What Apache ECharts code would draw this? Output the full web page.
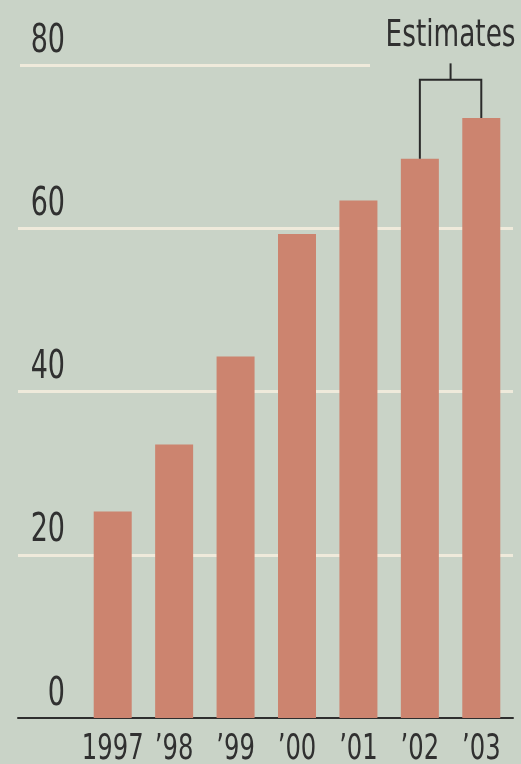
<!DOCTYPE html>
<html>
<head>
<meta charset="utf-8">
<script src="https://cdn.jsdelivr.net/npm/echarts@6/dist/echarts.min.js"></script>
<style>
  html, body { margin: 0; padding: 0; background: #c9d3c7; }
  #chart { width: 521px; height: 764px; }
</style>
</head>
<body>
<div id="chart"></div>
<script>
// chart data
const years = ['1997', '’98', '’99', '’00', '’01', '’02', '’03']
const values = [25.3, 33.5, 44.3, 59.3, 63.4, 68.5, 73.5]
const yTicks = [0, 20, 40, 60, 80]
const estimateRange = [5, 6] // '02 and '03 are estimates
const estimateLabel = 'Estimates'

// no condensed face installed, so text is squeezed horizontally
const FONT = '"DejaVu Sans Condensed", "DejaVu Sans", sans-serif'
const SQUEEZE = 0.77
const INK = '#303030'
const GRID_LINE = { color: '#efeadb', width: 3 }

const yMin = yTicks[0]
const yMax = yTicks[yTicks.length - 1]
const yStep = yTicks[1] - yTicks[0]

const chart = echarts.init(document.getElementById('chart'), null, { renderer: 'canvas' })

function label(text, x, y, size, align, vAlign) {
  return {
    type: 'text',
    x: x,
    y: y,
    scaleX: SQUEEZE,
    style: {
      text: text,
      x: 0,
      y: 0,
      align: align,
      verticalAlign: vAlign,
      fill: INK,
      font: size + 'px ' + FONT
    }
  }
}

chart.setOption({
  backgroundColor: '#c9d3c7',
  animation: false,
  grid: [
    // full width grid: y labels, gridlines 20-60, baseline
    { left: 18, right: 8, top: 65, bottom: 46 },
    // short top gridline (stops before the Estimates bracket)
    { left: 20, width: 350, top: 65, bottom: 46 },
    // bars
    { left: 82, right: 9, top: 65, bottom: 46 }
  ],
  xAxis: [
    {
      gridIndex: 0, type: 'value', min: 0, max: 1,
      axisLine: { show: true, lineStyle: { color: '#2e2e2e', width: 2 } },
      axisTick: { show: false }, axisLabel: { show: false }, splitLine: { show: false }
    },
    {
      gridIndex: 1, type: 'value', min: 0, max: 1, show: false
    },
    {
      gridIndex: 2, type: 'category', data: years,
      axisLine: { show: false }, axisTick: { show: false }, axisLabel: { show: false }
    }
  ],
  yAxis: [
    {
      gridIndex: 0, type: 'value', min: yMin, max: yMax, interval: yStep,
      axisLine: { show: false }, axisTick: { show: false }, axisLabel: { show: false },
      splitLine: { show: true, showMinLine: false, showMaxLine: false, lineStyle: GRID_LINE }
    },
    {
      gridIndex: 1, type: 'value', min: yMin, max: yMax, interval: yMax - yMin,
      axisLine: { show: false }, axisTick: { show: false }, axisLabel: { show: false },
      splitLine: { show: true, showMinLine: false, lineStyle: GRID_LINE }
    },
    {
      gridIndex: 2, type: 'value', min: yMin, max: yMax, interval: yStep, show: false
    }
  ],
  series: [
    {
      type: 'bar',
      xAxisIndex: 2,
      yAxisIndex: 2,
      data: values,
      barWidth: 38,
      itemStyle: { color: '#cc846f' },
      z: 3
    },
    {
      // y tick labels, sitting just above each gridline
      type: 'custom',
      xAxisIndex: 0,
      yAxisIndex: 0,
      clip: false,
      silent: true,
      data: yTicks.map(v => [0, v]),
      renderItem(params, api) {
        const p = api.coord([0, api.value(1)])
        return label(String(api.value(1)), p[0] + 47, p[1] - 4, 39, 'right', 'bottom')
      }
    },
    {
      // category labels under the baseline
      type: 'custom',
      xAxisIndex: 2,
      yAxisIndex: 2,
      clip: false,
      silent: true,
      data: years.map((y, i) => [i, 0]),
      renderItem(params, api) {
        const i = api.value(0)
        const p = api.coord([i, 0])
        return label(years[i], p[0], p[1] + 14, 35, 'center', 'top')
      }
    },
    {
      // bracket over the estimated years
      type: 'custom',
      xAxisIndex: 2,
      yAxisIndex: 2,
      clip: false,
      silent: true,
      z: 4,
      data: [estimateRange],
      renderItem(params, api) {
        const i0 = api.value(0)
        const i1 = api.value(1)
        const a = api.coord([i0, values[i0]])
        const b = api.coord([i1, values[i1]])
        const level = api.coord([i0, 78.2])[1]
        const stemTop = api.coord([i0, 80.2])[1]
        const midX = (a[0] + b[0]) / 2
        const line = { stroke: '#2a2a2a', lineWidth: 2, fill: null }
        return {
          type: 'group',
          children: [
            {
              type: 'polyline',
              shape: { points: [a, [a[0], level], [b[0], level], b] },
              style: line
            },
            {
              type: 'line',
              shape: { x1: midX, y1: level, x2: midX, y2: stemTop },
              style: line
            },
            label(estimateLabel, midX, stemTop - 8, 38, 'center', 'bottom')
          ]
        }
      }
    }
  ]
})
</script>
</body>
</html>
